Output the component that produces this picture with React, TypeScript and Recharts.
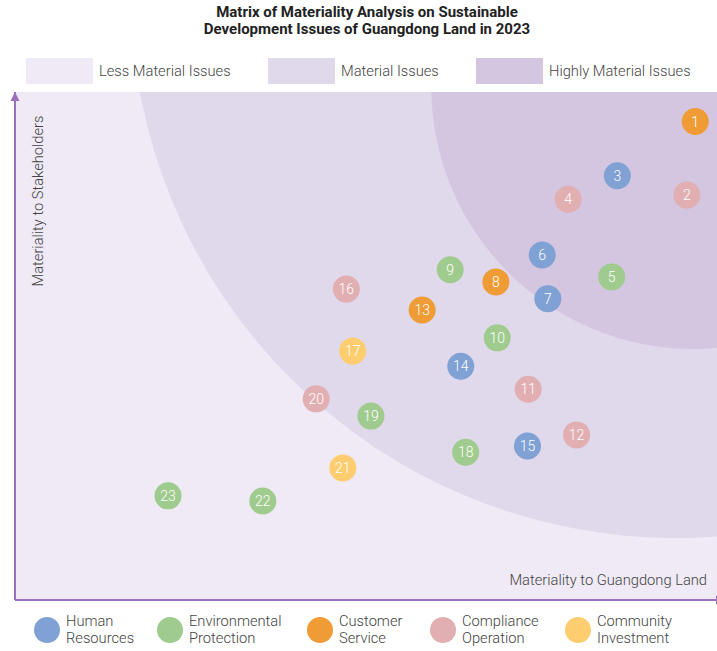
import React from 'react';
import { ScatterChart, Scatter, XAxis, YAxis, ReferenceArea, ReferenceDot, ReferenceLine, Legend } from 'recharts';

// ---- data ----
const categories = ['Human Resources', 'Environmental Protection', 'Customer Service', 'Compliance Operation', 'Community Investment'];
const categoryColors = ['#7fa1d4', '#9fcb8e', '#ef9c37', '#e1aeb1', '#fdcd6f'];

const humanResources = [
  { id: 3, x: 85.8, y: 83.5 },
  { id: 6, x: 75.1, y: 67.9 },
  { id: 7, x: 75.9, y: 59.3 },
  { id: 14, x: 63.5, y: 46.0 },
  { id: 15, x: 73.0, y: 30.3 },
];
const environmentalProtection = [
  { id: 5, x: 85.0, y: 63.6 },
  { id: 9, x: 62.0, y: 65.0 },
  { id: 10, x: 68.7, y: 51.6 },
  { id: 18, x: 64.2, y: 29.1 },
  { id: 19, x: 50.7, y: 36.2 },
  { id: 22, x: 35.3, y: 19.5 },
  { id: 23, x: 21.8, y: 20.5 },
];
const customerService = [
  { id: 1, x: 96.9, y: 94.2 },
  { id: 8, x: 68.5, y: 62.6 },
  { id: 13, x: 58.0, y: 57.1 },
];
const complianceOperation = [
  { id: 2, x: 95.7, y: 79.7 },
  { id: 4, x: 78.8, y: 78.9 },
  { id: 11, x: 73.1, y: 41.5 },
  { id: 12, x: 80.0, y: 32.5 },
  { id: 16, x: 47.2, y: 61.2 },
  { id: 20, x: 42.9, y: 39.6 },
];
const communityInvestment = [
  { id: 17, x: 48.1, y: 49.0 },
  { id: 21, x: 46.7, y: 26.0 },
];
const seriesData = [humanResources, environmentalProtection, customerService, complianceOperation, communityInvestment];

// materiality zones (bounding boxes of the zone boundaries, in data units)
const zoneLabels = ['Less Material Issues', 'Material Issues', 'Highly Material Issues'];
const zoneColors = ['#efeaf5', '#e0d8eb', '#d4c6e1'];
const materialZone = { x1: 16.5, x2: 171.8, y1: 12.2, y2: 226.8 };
const highlyMaterialZone = { x1: 59.3, x2: 134.0, y1: 49.4, y2: 152.6 };

const AXIS_COLOR = '#9a70bf';
const FONT = "Roboto, 'Liberation Sans', sans-serif";
const TEXT_SIZE = 14.7;
const CLIP_ID = 'materiality-plot-clip';

const plotShape = (props: any) => {
  const { x, y, width, height, fill } = props;
  return (
    <g>
      <defs>
        <clipPath id={CLIP_ID}>
          <rect x={x} y={y} width={width} height={height} />
        </clipPath>
      </defs>
      <rect x={x} y={y} width={width} height={height} fill={fill} />
    </g>
  );
};

const ellipseShape = (props: any) => {
  const { x, y, width, height, fill } = props;
  return (
    <ellipse
      cx={x + width / 2}
      cy={y + height / 2}
      rx={Math.abs(width) / 2}
      ry={Math.abs(height) / 2}
      fill={fill}
      stroke="none"
      clipPath={`url(#${CLIP_ID})`}
    />
  );
};

const bubble = (color: string) => (props: any) => {
  const { cx, cy, payload } = props;
  return (
    <g>
      <circle cx={cx} cy={cy} r={13.5} fill={color} />
      <text x={cx} y={cy} dy="0.36em" textAnchor="middle" fill="#ffffff" fontSize={14} fontFamily={FONT} fontWeight={300}>
        {payload.id}
      </text>
    </g>
  );
};

const upArrow = (props: any) => {
  const { cx, cy } = props;
  return <polygon points={`${cx},${cy} ${cx - 4.5},${cy + 9} ${cx + 4.5},${cy + 9}`} fill={AXIS_COLOR} />;
};
const rightArrow = (props: any) => {
  const { cx, cy } = props;
  return <polygon points={`${cx - 1},${cy - 4.5} ${cx - 1},${cy + 4.5} ${cx + 8},${cy}`} fill={AXIS_COLOR} />;
};

const XLabel = (props: any) => {
  const vb = props.viewBox || {};
  return (
    <text x={vb.x + vb.width - 10} y={vb.y - 15} textAnchor="end" fill="#444" fontSize={TEXT_SIZE} fontFamily={FONT} fontWeight={300}>
      Materiality to Guangdong Land
    </text>
  );
};
const YLabel = (props: any) => {
  const vb = props.viewBox || {};
  const x = vb.x + 28;
  const y = vb.y + 109;
  return (
    <text x={x} y={y} transform={`rotate(-90 ${x} ${y})`} textAnchor="middle" fill="#444" fontSize={TEXT_SIZE} fontFamily={FONT} fontWeight={300}>
      Materiality to Stakeholders
    </text>
  );
};

const legendLefts = [34, 157, 307, 430, 565];
const LegendContent = (props: any) => {
  const payload = [...(props.payload || [])].sort(
    (a: any, b: any) => categories.indexOf(a.value) - categories.indexOf(b.value)
  );
  return (
    <div style={{ position: 'relative', width: 717, height: 40 }}>
      {payload.map((item: any, i: number) => {
        const words = String(item.value).split(' ');
        return (
          <div key={i} style={{ position: 'absolute', left: legendLefts[i], top: 0, display: 'flex', alignItems: 'center' }}>
            <div style={{ width: 26, height: 26, borderRadius: 13, background: item.color }} />
            <div style={{ marginLeft: 6, fontFamily: FONT, fontWeight: 300, fontSize: TEXT_SIZE, lineHeight: '17px', color: '#444' }}>
              {words.map((w, j) => (
                <div key={j}>{w}</div>
              ))}
            </div>
          </div>
        );
      })}
    </div>
  );
};

const zoneLegendLefts = [26, 268, 476];

export default function App() {
  return (
    <div style={{ position: 'absolute', left: 0, top: 0, width: 717, height: 651, background: '#fff' }}>
      <div
        style={{
          position: 'absolute',
          left: 0,
          top: 4,
          width: 734,
          textAlign: 'center',
          fontFamily: "'Liberation Sans Narrow', Roboto, sans-serif",
          fontWeight: 700,
          fontSize: 15,
          lineHeight: '17px',
          color: '#222',
        }}
      >
        <div>Matrix of Materiality Analysis on Sustainable</div>
        <div>Development Issues of Guangdong Land in 2023</div>
      </div>
      {zoneLabels.map((label, i) => (
        <div key={label} style={{ position: 'absolute', left: zoneLegendLefts[i], top: 58, display: 'flex', alignItems: 'center' }}>
          <div style={{ width: 67, height: 26, background: zoneColors[i] }} />
          <div style={{ marginLeft: 6, fontFamily: FONT, fontWeight: 300, fontSize: TEXT_SIZE, color: '#444' }}>{label}</div>
        </div>
      ))}
      <div style={{ position: 'absolute', left: 0, top: 0 }}>
        <ScatterChart width={717} height={651} margin={{ top: 92, right: 0, bottom: 51, left: 15 }}>
          <XAxis type="number" dataKey="x" domain={[0, 100]} allowDataOverflow hide />
          <YAxis type="number" dataKey="y" domain={[0, 100]} allowDataOverflow hide />
          <ReferenceArea x1={0} x2={100} y1={0} y2={100} fill={zoneColors[0]} fillOpacity={1} ifOverflow="visible" shape={plotShape} />
          <ReferenceArea {...materialZone} fill={zoneColors[1]} fillOpacity={1} ifOverflow="visible" shape={ellipseShape} />
          <ReferenceArea {...highlyMaterialZone} fill={zoneColors[2]} fillOpacity={1} ifOverflow="visible" shape={ellipseShape} />
          <ReferenceLine x={0} stroke={AXIS_COLOR} strokeWidth={2} ifOverflow="visible" label={{ content: YLabel }} />
          <ReferenceLine y={0} stroke={AXIS_COLOR} strokeWidth={2} ifOverflow="visible" label={{ content: XLabel }} />
          <ReferenceDot x={0} y={100} ifOverflow="visible" shape={upArrow} />
          <ReferenceDot x={100} y={0} ifOverflow="visible" shape={rightArrow} />
          {seriesData.map((d, i) => (
            <Scatter key={categories[i]} name={categories[i]} data={d} fill={categoryColors[i]} shape={bubble(categoryColors[i])} isAnimationActive={false} />
          ))}
          <Legend
            layout="horizontal"
            verticalAlign="middle"
            align="center"
            content={LegendContent}
            wrapperStyle={{ position: 'absolute', left: 0, top: 613, width: 717, height: 40 }}
          />
        </ScatterChart>
      </div>
    </div>
  );
}
